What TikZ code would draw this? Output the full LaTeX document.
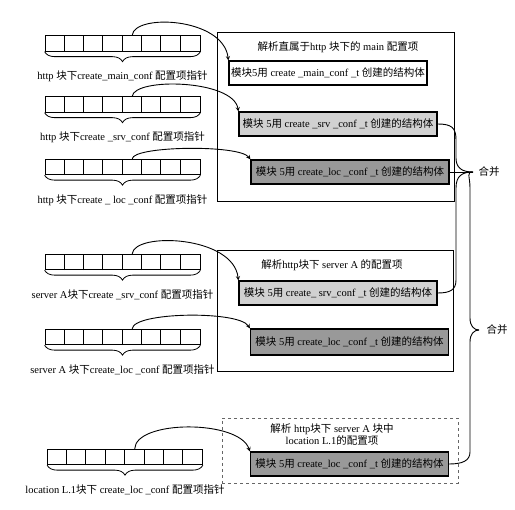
\documentclass[tikz,border=0pt]{standalone}
\usepackage{fontspec}
\setmainfont{Liberation Serif}
\newfontfamily\cjk{Noto Sans CJK SC}
\newcommand{\zh}[1]{{\cjk #1}}
\usetikzlibrary{positioning, decorations.pathreplacing}

\begin{document}
\begin{tikzpicture}[x=1pt, y=-1pt, >=stealth, font=\fontsize{10.5}{12.5}\selectfont, ptrarray/.style={draw, line width=0.8pt, minimum width=155pt, minimum height=15.5pt, inner sep=0pt}, under/.style={draw, line width=0.8pt, decorate, decoration={brace, mirror, amplitude=10pt}}, ptr/.style={below=18pt of #1, inner sep=1pt}, frame/.style={draw, line width=0.9pt, inner sep=0pt}, struct/.style={draw, line width=1.2pt, minimum width=198pt, minimum height=24pt, inner sep=1pt}, link/.style={->, line width=0.9pt}, merge/.style={line width=0.9pt}]
\useasboundingbox (0,0) rectangle (515,510);

% arrays of pointers
\node[ptrarray] (arrM) at (122.5,43.5) {};
\node[ptrarray] (arrS) at (122.5,104.5) {};
\node[ptrarray] (arrL) at (122.5,167) {};
\node[ptrarray] (arrSA) at (122.5,262) {};
\node[ptrarray] (arrLA) at (122.5,337) {};
\node[ptrarray] (arrLL) at (125,457) {};
\foreach \a in {arrM, arrS, arrL, arrSA, arrLA, arrLL} {
    \foreach \k in {1,...,7}
        \draw[line width=0.8pt] ([xshift=\k*19.375pt]\a.south west) -- ([xshift=\k*19.375pt]\a.north west);
    \draw[under] (\a.south west) -- (\a.south east);
}
\node[ptr=arrM] (labM) {http \zh{块下}create\_main\_conf \zh{配置项指针}};
\node[ptr=arrS] (labS) {http \zh{块下}create \_srv\_conf \zh{配置项指针}};
\node[ptr=arrL] (labL) {http \zh{块下}create \_ loc \_conf \zh{配置项指针}};
\node[ptr=arrSA] (labSA) {server A\zh{块下}create \_srv\_conf \zh{配置项指针}};
\node[ptr=arrLA] (labLA) {server A \zh{块下}create\_loc \_conf \zh{配置项指针}};
\node[ptr=arrLL] (labLL) {location L.1\zh{块下} create\_loc \_conf \zh{配置项指针}};

% http block
\node[frame, minimum width=237pt, minimum height=169pt] (http) at (335.5,116.5) {};
\node (titleH) at (338,47) {\zh{解析直属于}http \zh{块下的} main \zh{配置项}};
\node[struct, fill=white] (mainB) at (328,73) {\zh{模块}5\zh{用} create \_main\_conf \_t \zh{创建的结构体}};
\node[struct, fill=black!18] (srvH) at (338,124) {\zh{模块} 5\zh{用} create \_srv \_conf \_t \zh{创建的结构体}};
\node[struct, fill=black!40] (locH) at (350,172) {\zh{模块} 5\zh{用} create\_loc \_conf \_t \zh{创建的结构体}};

% server A block
\node[frame, minimum width=236pt, minimum height=121pt] (servA) at (335,310.5) {};
\node (titleA) at (332,265) {\zh{解析}http\zh{块下} server A \zh{的配置项}};
\node[struct, fill=black!18] (srvA) at (338,293) {\zh{模块} 5\zh{用} create\_ srv\_conf \_t \zh{创建的结构体}};
\node[struct, fill=black!40, minimum height=26pt] (locA) at (349.5,342) {\zh{模块} 5\zh{用} create\_loc \_conf \_t \zh{创建的结构体}};

% location L.1 block
\node[frame, dashed, draw=black!60, minimum width=236pt, minimum height=65pt] (locBlk) at (340,450.5) {};
\node[align=center] (titleL) at (332,434.5) {\zh{解析} http\zh{块下} server A \zh{块中}\\location L.1\zh{的配置项}};
\node[struct, fill=black!40] (locL) at (349.5,464) {\zh{模块} 5\zh{用} create\_loc \_conf \_t \zh{创建的结构体}};

% pointers to structures
\draw[link] ([xshift=9.7pt]arrM.north) .. controls +(2,-22) and +(-5,-43) .. (mainB.north west);
\draw[link] ([xshift=9.7pt]arrS.north) .. controls +(2,-19) and +(-5,-32) .. (srvH.north west);
\draw[link] ([xshift=9.7pt]arrL.north) .. controls +(1,-13) and +(-11,-15) .. (locH.north west);
\draw[link] ([xshift=9.7pt]arrSA.north) .. controls +(2,-22) and +(-5,-45) .. (srvA.north west);
\draw[link] ([xshift=9.7pt]arrLA.north) .. controls +(1,-17) and +(-11,-18) .. (locA.north west);
\draw[link] ([xshift=9.7pt]arrLL.north) .. controls +(1,-29) and +(-11,-32) .. (locL.north west);

% merging
\coordinate (tip1) at (473,172);
\coordinate (tip2) at (479,330);
\draw[merge] (srvH.east) .. controls (452,124) and (456,128) .. (456,140) -- (456,158) .. controls (456,168) and (462,172) .. (tip1);
\draw[merge] (tip1) .. controls (462,172) and (456,176) .. (456,188) -- (456,280) .. controls (456,290) and (450,293) .. (srvA.east);
\draw[merge] (locH.east) -- (tip1);
\draw[merge] (tip1) .. controls (466,172) and (470,176) .. (470,188) -- (470,318) .. controls (470,326) and (474,330) .. (tip2);
\draw[merge] (tip2) .. controls (474,330) and (470,334) .. (470,342) -- (470,452) .. controls (470,461) and (462,464) .. (locL.east);
\node[right=2pt of tip1] (merge1) {\zh{合并}};
\node[right=4pt of tip2] (merge2) {\zh{合并}};

\end{tikzpicture}
\end{document}
